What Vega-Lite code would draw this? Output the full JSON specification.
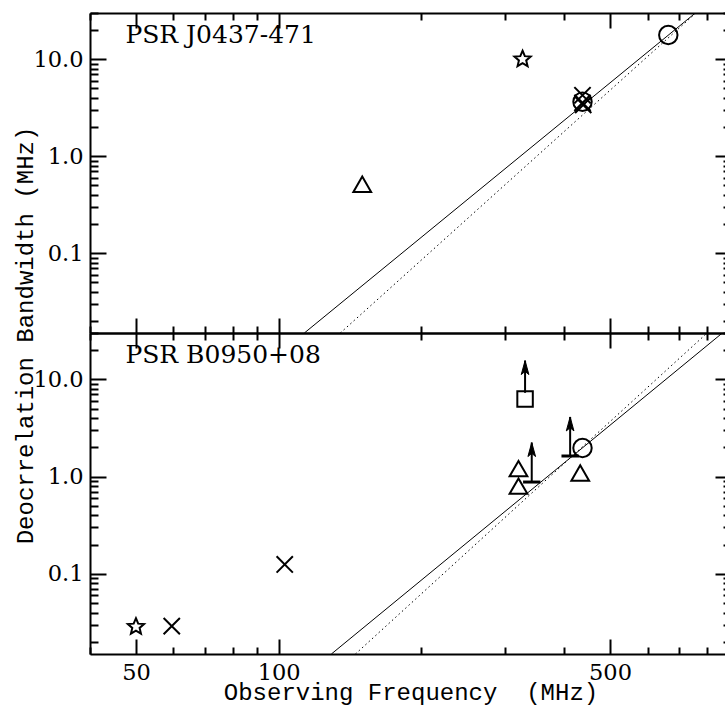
{
  "$schema": "https://vega.github.io/schema/vega-lite/v6.json",
  "padding": {"left": 13, "top": 12, "right": 0, "bottom": 8},
  "bounds": "flush",
  "spacing": 0,
  "config": {
    "view": {"stroke": null},
    "axis": {"domainColor": "black", "domainWidth": 2, "tickColor": "black", "tickWidth": 2, "labelColor": "black", "titleColor": "black", "grid": false, "labelOverlap": false, "labelFlush": false}
  },
  "datasets": {
    "lines": [
      {"panel": "top", "fit": "solid", "f": 113.3, "bw": 0.015},
      {"panel": "top", "fit": "solid", "f": 757, "bw": 30},
      {"panel": "top", "fit": "dotted", "f": 134.9, "bw": 0.015},
      {"panel": "top", "fit": "dotted", "f": 759, "bw": 30},
      {"panel": "bottom", "fit": "solid", "f": 129.2, "bw": 0.015},
      {"panel": "bottom", "fit": "solid", "f": 863, "bw": 30},
      {"panel": "bottom", "fit": "dotted", "f": 145.2, "bw": 0.015},
      {"panel": "bottom", "fit": "dotted", "f": 801.5, "bw": 30}
    ],
    "pts": [
      {"panel": "top", "sym": "triangle", "f": 150.1, "bw": 0.514},
      {"panel": "top", "sym": "star", "f": 327, "bw": 10.0},
      {"panel": "top", "sym": "x", "f": 437.5, "bw": 4.25},
      {"panel": "top", "sym": "circle", "f": 437.5, "bw": 3.65},
      {"panel": "top", "sym": "x", "f": 437.5, "bw": 3.55},
      {"panel": "top", "sym": "x", "f": 439, "bw": 3.38},
      {"panel": "top", "sym": "circle", "f": 663.7, "bw": 17.8},
      {"panel": "bottom", "sym": "star", "f": 50, "bw": 0.0286},
      {"panel": "bottom", "sym": "x", "f": 59.5, "bw": 0.029},
      {"panel": "bottom", "sym": "x", "f": 103, "bw": 0.125},
      {"panel": "bottom", "sym": "square", "f": 331, "bw": 6.27},
      {"panel": "bottom", "sym": "triangle", "f": 320.6, "bw": 1.21},
      {"panel": "bottom", "sym": "triangle", "f": 320.6, "bw": 0.8},
      {"panel": "bottom", "sym": "circle", "f": 437.5, "bw": 1.97},
      {"panel": "bottom", "sym": "triangle", "f": 432.7, "bw": 1.09}
    ],
    "bars": [
      {"f": 341.9, "bw": 0.88},
      {"f": 412, "bw": 1.63}
    ],
    "arrows": [
      {"f": 331, "lo": 7.28, "hi": 15.6},
      {"f": 341.9, "lo": 0.88, "hi": 2.24},
      {"f": 412, "lo": 1.63, "hi": 4.11}
    ],
    "labels": [
      {"panel": "top", "f": 47.5, "bw": 14.6, "label": "PSR J0437-471"},
      {"panel": "bottom", "f": 47.5, "bw": 14.6, "label": "PSR B0950+08"}
    ]
  },
  "vconcat": [
    {
      "width": 641,
      "height": 320,
      "resolve": {"axis": {"x": "independent", "y": "independent"}},
      "layer": [
        {
          "data": {"name": "lines"},
          "transform": [{"filter": "datum.panel=='top' && datum.fit=='solid'"}],
          "mark": {"type": "line", "color": "black", "strokeWidth": 1, "clip": true},
          "encoding": {
            "x": {"field": "f", "type": "quantitative", "scale": {"type": "log", "domain": [40, 900], "nice": false},
              "axis": {"orient": "bottom", "values": [50, 100, 500], "tickSize": -15, "labels": false, "title": null}},
            "y": {"field": "bw", "type": "quantitative", "scale": {"type": "log", "domain": [0.015, 30], "nice": false},
              "axis": {"orient": "left", "values": [0.1, 1, 10], "tickSize": -16,
                "labelExpr": "datum.value==0.1?'0.1':datum.value==1?'1.0':'10.0'",
                "labelPadding": 23, "labelFont": "DejaVu Serif", "labelFontSize": 22.5,
                "title": "Deocrrelation Bandwidth (MHz)", "titleFont": "Liberation Mono", "titleFontSize": 24, "titleFontWeight": "normal",
                "titleAngle": -90, "titleX": -58, "titleY": 322, "titleAlign": "center", "titleBaseline": "alphabetic"}}
          }
        },
        {
          "data": {"name": "lines"},
          "transform": [{"filter": "datum.panel=='top' && datum.fit=='dotted'"}],
          "mark": {"type": "line", "color": "black", "strokeWidth": 1, "strokeDash": [1.5, 3], "clip": true},
          "encoding": {
            "x": {"field": "f", "type": "quantitative", "scale": {"type": "log", "domain": [40, 900], "nice": false},
              "axis": {"orient": "top", "values": [50, 100, 500], "tickSize": -15, "labels": false, "title": null}},
            "y": {"field": "bw", "type": "quantitative", "scale": {"type": "log", "domain": [0.015, 30], "nice": false},
              "axis": {"orient": "right", "values": [0.1, 1, 10], "tickSize": -16, "labels": false, "title": null}}
          }
        },
        {
          "data": {"name": "pts"},
          "transform": [{"filter": "datum.panel=='top'"}],
          "mark": {"type": "point", "filled": false, "color": "black", "opacity": 1, "strokeWidth": 2, "clip": true},
          "encoding": {
            "x": {"field": "f", "type": "quantitative",
              "axis": {"orient": "bottom", "values": [40,60,70,80,90,200,300,400,600,700,800,900], "tickSize": -7, "labels": false, "domain": false, "title": null}},
            "y": {"field": "bw", "type": "quantitative",
              "axis": {"orient": "left", "values": [0.02,0.03,0.04,0.05,0.06,0.07,0.08,0.09,0.2,0.3,0.4,0.5,0.6,0.7,0.8,0.9,2,3,4,5,6,7,8,9,20,30], "tickSize": -8, "labels": false, "domain": false, "title": null}},
            "shape": {"field": "sym", "type": "nominal", "legend": null,
              "scale": {"domain": ["circle", "triangle", "star", "x", "square"],
                "range": ["circle", "triangle-up", "M0,-1L0.265,-0.364L0.951,-0.309L0.428,0.139L0.588,0.809L0,0.45L-0.588,0.809L-0.428,0.139L-0.951,-0.309L-0.265,-0.364Z", "M-1,-1L1,1M-1,1L1,-1", "square"]}},
            "size": {"field": "sym", "type": "ordinal", "legend": null,
              "scale": {"domain": ["circle", "triangle", "star", "x", "square"], "range": [340, 240, 346, 196, 169]}}
          }
        },
        {
          "data": {"name": "labels"},
          "transform": [{"filter": "datum.panel=='top'"}],
          "mark": {"type": "text", "align": "left", "baseline": "alphabetic", "font": "DejaVu Serif", "fontSize": 25, "color": "black"},
          "encoding": {
            "x": {"field": "f", "type": "quantitative",
              "axis": {"orient": "top", "values": [40,60,70,80,90,200,300,400,600,700,800,900], "tickSize": -7, "labels": false, "domain": false, "title": null}},
            "y": {"field": "bw", "type": "quantitative",
              "axis": {"orient": "right", "values": [0.02,0.03,0.04,0.05,0.06,0.07,0.08,0.09,0.2,0.3,0.4,0.5,0.6,0.7,0.8,0.9,2,3,4,5,6,7,8,9,20,30], "tickSize": -8, "labels": false, "domain": false, "title": null}},
            "text": {"field": "label"}
          }
        }
      ]
    },
    {
      "width": 641,
      "height": 321,
      "resolve": {"axis": {"x": "independent", "y": "independent"}},
      "layer": [
        {
          "data": {"name": "lines"},
          "transform": [{"filter": "datum.panel=='bottom' && datum.fit=='solid'"}],
          "mark": {"type": "line", "color": "black", "strokeWidth": 1, "clip": true},
          "encoding": {
            "x": {"field": "f", "type": "quantitative", "scale": {"type": "log", "domain": [40, 900], "nice": false},
              "axis": {"orient": "bottom", "values": [50, 100, 500], "tickSize": -15,
                "labelExpr": "datum.value==50?'50':datum.value==100?'100':'500'",
                "labelPadding": 22.6, "labelFont": "DejaVu Serif", "labelFontSize": 22.5,
                "title": "Observing Frequency\u00a0 (MHz)", "titleFont": "Liberation Mono", "titleFontSize": 24, "titleFontWeight": "normal",
                "titleY": 45, "titleBaseline": "alphabetic"}},
            "y": {"field": "bw", "type": "quantitative", "scale": {"type": "log", "domain": [0.015, 30], "nice": false},
              "axis": {"orient": "left", "values": [0.1, 1, 10], "tickSize": -16,
                "labelExpr": "datum.value==0.1?'0.1':datum.value==1?'1.0':'10.0'",
                "labelPadding": 23, "labelFont": "DejaVu Serif", "labelFontSize": 22.5, "title": null}}
          }
        },
        {
          "data": {"name": "lines"},
          "transform": [{"filter": "datum.panel=='bottom' && datum.fit=='dotted'"}],
          "mark": {"type": "line", "color": "black", "strokeWidth": 1, "strokeDash": [1.5, 3], "clip": true},
          "encoding": {
            "x": {"field": "f", "type": "quantitative", "scale": {"type": "log", "domain": [40, 900], "nice": false},
              "axis": {"orient": "top", "values": [50, 100, 500], "tickSize": -15, "labels": false, "title": null}},
            "y": {"field": "bw", "type": "quantitative", "scale": {"type": "log", "domain": [0.015, 30], "nice": false},
              "axis": {"orient": "right", "values": [0.1, 1, 10], "tickSize": -16, "labels": false, "title": null}}
          }
        },
        {
          "data": {"name": "pts"},
          "transform": [{"filter": "datum.panel=='bottom'"}],
          "mark": {"type": "point", "filled": false, "color": "black", "opacity": 1, "strokeWidth": 2, "clip": true},
          "encoding": {
            "x": {"field": "f", "type": "quantitative",
              "axis": {"orient": "bottom", "values": [40,60,70,80,90,200,300,400,600,700,800,900], "tickSize": -7, "labels": false, "domain": false, "title": null}},
            "y": {"field": "bw", "type": "quantitative",
              "axis": {"orient": "left", "values": [0.02,0.03,0.04,0.05,0.06,0.07,0.08,0.09,0.2,0.3,0.4,0.5,0.6,0.7,0.8,0.9,2,3,4,5,6,7,8,9,20,30], "tickSize": -8, "labels": false, "domain": false, "title": null}},
            "shape": {"field": "sym", "type": "nominal", "legend": null,
              "scale": {"domain": ["circle", "triangle", "star", "x", "square"],
                "range": ["circle", "triangle-up", "M0,-1L0.265,-0.364L0.951,-0.309L0.428,0.139L0.588,0.809L0,0.45L-0.588,0.809L-0.428,0.139L-0.951,-0.309L-0.265,-0.364Z", "M-1,-1L1,1M-1,1L1,-1", "square"]}},
            "size": {"field": "sym", "type": "ordinal", "legend": null,
              "scale": {"domain": ["circle", "triangle", "star", "x", "square"], "range": [340, 240, 346, 196, 169]}}
          }
        },
        {
          "data": {"name": "labels"},
          "transform": [{"filter": "datum.panel=='bottom'"}],
          "mark": {"type": "text", "align": "left", "baseline": "alphabetic", "font": "DejaVu Serif", "fontSize": 25, "color": "black"},
          "encoding": {
            "x": {"field": "f", "type": "quantitative",
              "axis": {"orient": "top", "values": [40,60,70,80,90,200,300,400,600,700,800,900], "tickSize": -7, "labels": false, "domain": false, "title": null}},
            "y": {"field": "bw", "type": "quantitative",
              "axis": {"orient": "right", "values": [0.02,0.03,0.04,0.05,0.06,0.07,0.08,0.09,0.2,0.3,0.4,0.5,0.6,0.7,0.8,0.9,2,3,4,5,6,7,8,9,20,30], "tickSize": -8, "labels": false, "domain": false, "title": null}},
            "text": {"field": "label"}
          }
        },
        {
          "data": {"name": "bars"},
          "mark": {"type": "point", "shape": "M-1,0L1,0", "size": 300, "filled": false, "color": "black", "opacity": 1, "strokeWidth": 3},
          "encoding": {
            "x": {"field": "f", "type": "quantitative", "axis": null},
            "y": {"field": "bw", "type": "quantitative", "axis": null}
          }
        },
        {
          "data": {"name": "arrows"},
          "mark": {"type": "rule", "color": "black", "strokeWidth": 2},
          "encoding": {
            "x": {"field": "f", "type": "quantitative", "axis": null},
            "y": {"field": "lo", "type": "quantitative", "axis": null},
            "y2": {"field": "hi"}
          }
        },
        {
          "data": {"name": "arrows"},
          "mark": {"type": "point", "shape": "M0,0L-0.3,1.1L0,0.85L0.3,1.1Z", "size": 645, "filled": true, "color": "black", "opacity": 1, "strokeWidth": 1, "stroke": "black"},
          "encoding": {
            "x": {"field": "f", "type": "quantitative", "axis": null},
            "y": {"field": "hi", "type": "quantitative", "axis": null}
          }
        }
      ]
    }
  ]
}
